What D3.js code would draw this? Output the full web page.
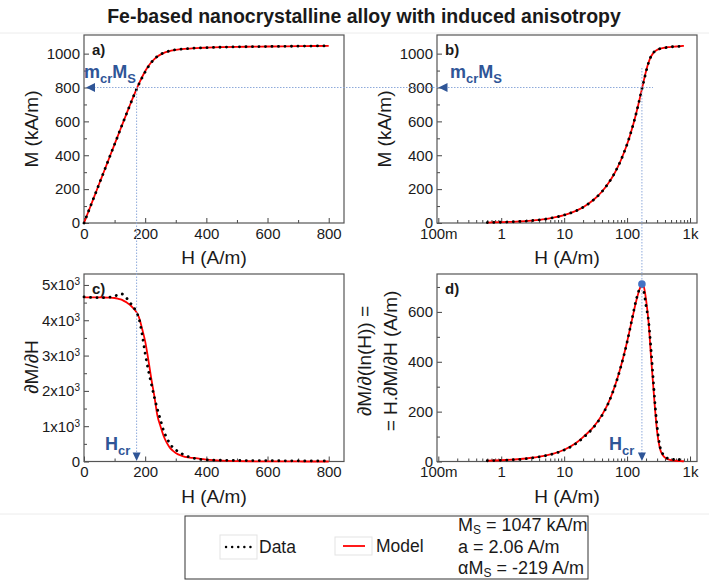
<!DOCTYPE html>
<html>
<head>
<meta charset="utf-8">
<script src="https://cdn.jsdelivr.net/npm/d3@7"></script>
<style>
  body { margin: 0; background: #fff; }
  text { font-family: "Liberation Sans", Arial, sans-serif; fill: #1a1a1a; }
</style>
</head>
<body>
<svg id="chart" width="709" height="580"></svg>
<script>
// ---- data ----
// M(H) curve, panels a and b (H in A/m, M in kA/m)
const hM = [0, 0.6, 1, 1.5, 2, 3, 5, 7, 10, 15, 20, 30, 40, 50, 60, 70, 80, 90, 100, 110, 120, 130, 140, 150,
  160, 170, 180, 190, 200, 210, 220, 230, 240, 250, 260, 270, 280, 290, 300, 320, 340, 360, 380, 400,
  450, 500, 550, 600, 650, 700, 750, 800];
const mData = [0, 2.8, 4.7, 7, 9.3, 14, 23, 33, 47, 70, 93, 140, 186, 233, 279, 326, 372, 419, 465, 511, 558, 604, 650, 695,
  740, 782, 822, 858, 892, 922, 948, 968, 984, 996, 1005, 1011, 1016, 1020, 1023, 1027, 1030, 1032, 1034, 1035,
  1038, 1040, 1041, 1042, 1043, 1044, 1045, 1046];
const mModel = [0, 2.8, 4.7, 7, 9.3, 14, 23, 33, 47, 70, 93, 140, 186, 233, 279, 326, 372, 419, 465, 511, 558, 604, 650, 695,
  740, 783, 824, 862, 896, 925, 949, 968, 983, 994, 1003, 1010, 1015, 1019, 1022, 1027, 1030, 1032, 1034, 1035,
  1038, 1040, 1041, 1042, 1043, 1044, 1045, 1046];

// dM/dH, panel c
const hC = [0, 20, 40, 60, 80, 100, 110, 120, 130, 140, 150, 160, 170, 180, 190, 200, 210, 220, 230, 240, 250,
  260, 270, 280, 290, 300, 320, 340, 360, 380, 400, 450, 500, 550, 600, 650, 700, 750, 800];
const dmdhData = [4660, 4650, 4640, 4640, 4650, 4680, 4720, 4750, 4720, 4620, 4500, 4400, 4250, 4040, 3600, 3060, 2600, 2200, 1820, 1480, 1180,
  880, 680, 520, 400, 330, 220, 140, 90, 60, 45, 35, 30, 25, 25, 20, 20, 15, 15];
const dmdhModel = [4650, 4650, 4648, 4645, 4640, 4630, 4615, 4590, 4550, 4500, 4440, 4350, 4250, 4080, 3760, 3400, 2900, 2350, 1850, 1300, 1000,
  730, 540, 400, 310, 240, 160, 115, 100, 75, 55, 25, 12, 6, 3, 2, 1, 0, 0];

// H.dM/dH, panel d
const hD = [0.6, 1, 2, 3, 5, 7, 10, 15, 20, 30, 40, 50, 60, 70, 80, 100, 120, 140, 160, 172, 185, 200, 220, 240,
  260, 280, 300, 330, 370, 420, 500, 550, 600, 650, 700, 750, 800];
const hdmdhData = [3, 5, 9, 14, 23, 32, 46, 70, 95, 140, 185, 232, 282, 332, 382, 478, 572, 650, 695, 703, 680, 625, 560, 450,
  330, 220, 140, 65, 30, 15, 10, 8, 12, 6, 10, 5, 8];
const hdmdhModel = [3, 5, 10, 15, 24, 33, 47, 72, 98, 142, 187, 233, 283, 333, 383, 480, 570, 645, 695, 712, 700, 650, 555, 420,
  305, 200, 120, 55, 25, 12, 6, 4, 3, 2, 2, 1, 1];

// ticks and annotations
const ticksHlin = [0, 200, 400, 600, 800];
const minorHlin = [100, 300, 500, 700];
const ticksM = [0, 200, 400, 600, 800, 1000];
const minorM = [100, 300, 500, 700, 900];
const ticksC = [0, 1000, 2000, 3000, 4000, 5000];
const minorC = [500, 1500, 2500, 3500, 4500];
const ticksD = [0, 200, 400, 600];
const minorD = [100, 300, 500, 700];
const ticksHlog = [0.1, 1, 10, 100, 1000];
const labelsHlog = ["100m", "1", "10", "100", "1k"];
const hCr = 172;
const mCr = 800;
const peakD = 712;

const svg = d3.select("#chart");
const blue = "#2f5597";
const guide = "#8eaadb";

svg.append("line").attr("x1", 0).attr("x2", 709).attr("y1", 33).attr("y2", 33).attr("stroke", "#ececec");
svg.append("line").attr("x1", 0).attr("x2", 709).attr("y1", 514).attr("y2", 514).attr("stroke", "#ececec");

svg.append("text").attr("x", 364).attr("y", 23).attr("text-anchor", "middle")
  .attr("font-size", 19.5).attr("font-weight", "bold").text("Fe-based nanocrystalline alloy with induced anisotropy");

const boxes = {
  a: { x0: 84, x1: 344, y0: 35, y1: 223 },
  b: { x0: 437, x1: 697, y0: 35, y1: 223 },
  c: { x0: 84, x1: 344, y0: 274, y1: 461.5 },
  d: { x0: 437, x1: 697, y0: 274, y1: 461.5 }
};

// log scale: 100m at 438.3, 62.93 px per decade
const logLo = Math.pow(10, -1 - 1.3 / 62.93);
const logHi = Math.pow(10, -1 + (697 - 438.3) / 62.93);

const minorLog = [];
[0.1, 1, 10, 100].forEach(d => { for (let k = 2; k <= 9; k++) minorLog.push(k * d); });

function panel(key, opt) {
  const b = boxes[key];
  const x = opt.log
    ? d3.scaleLog().domain([logLo, logHi]).range([b.x0, b.x1])
    : d3.scaleLinear().domain([0, 850]).range([b.x0, b.x1]);
  const y = d3.scaleLinear().domain([0, opt.ymax]).range([b.y1, b.y0]);
  const g = svg.append("g");

  const xAxis = d3.axisBottom(x).tickSizeInner(-5).tickSizeOuter(0).tickPadding(5);
  if (opt.log) xAxis.tickValues(ticksHlog).tickFormat((d, i) => labelsHlog[i]);
  else xAxis.tickValues(ticksHlin).tickFormat(d3.format("d"));
  g.append("g").attr("transform", `translate(0,${b.y1})`).call(xAxis);
  g.append("g").attr("transform", `translate(0,${b.y1})`)
    .call(d3.axisBottom(x).tickValues(opt.log ? minorLog : minorHlin).tickSize(-3).tickFormat(""));

  const yAxis = d3.axisLeft(y).tickValues(opt.yticks).tickSizeInner(-5).tickSizeOuter(0).tickPadding(4)
    .tickFormat(d3.format("d"));
  const gy = g.append("g").attr("transform", `translate(${b.x0},0)`).call(yAxis);
  g.append("g").attr("transform", `translate(${b.x0},0)`)
    .call(d3.axisLeft(y).tickValues(opt.yminor).tickSize(-3).tickFormat(""));

  g.selectAll(".domain").remove();
  g.selectAll(".tick line").attr("stroke", "#444");
  g.selectAll(".tick text").attr("font-size", 15).attr("fill", "#1a1a1a")
    .attr("font-family", "'Liberation Sans', Arial, sans-serif");

  if (opt.sci) {
    gy.selectAll(".tick text").each(function (d) {
      if (d === 0) return;
      const t = d3.select(this).text(null);
      t.append("tspan").text(d / 1000 + "x10");
      t.append("tspan").attr("dy", "-0.5em").attr("font-size", 10).text("3");
    });
  }

  g.append("rect").attr("x", b.x0).attr("y", b.y0)
    .attr("width", b.x1 - b.x0).attr("height", b.y1 - b.y0)
    .attr("fill", "none").attr("stroke", "#555").attr("stroke-width", 1.2);

  g.append("text").attr("x", b.x0 + 8).attr("y", b.y0 + 20)
    .attr("font-size", 15).attr("font-weight", "bold").text(key + ")");

  g.append("text").attr("x", (b.x0 + b.x1) / 2).attr("y", b.y1 + 41)
    .attr("text-anchor", "middle").attr("font-size", 19).text("H (A/m)");

  const line = (hs, vs) => d3.line().curve(d3.curveMonotoneX)
    .x(d => x(d[0])).y(d => y(d[1]))(hs.map((h, i) => [h, vs[i]]).filter(p => !opt.log || p[0] > 0));

  g.append("path").attr("d", line(opt.h, opt.model))
    .attr("fill", "none").attr("stroke", "#ff0000").attr("stroke-width", 1.8);
  g.append("path").attr("d", line(opt.h, opt.data))
    .attr("fill", "none").attr("stroke", "#000").attr("stroke-width", 2.8)
    .attr("stroke-linecap", "round").attr("stroke-dasharray", "0.1 6.4");

  return { x, y, b };
}

const pa = panel("a", { h: hM, data: mData, model: mModel, ymax: 1110, yticks: ticksM, yminor: minorM });
const pb = panel("b", { log: true, h: hM, data: mData, model: mModel, ymax: 1110, yticks: ticksM, yminor: minorM });
const pc = panel("c", { h: hC, data: dmdhData, model: dmdhModel, ymax: 5310, yticks: ticksC, yminor: minorC, sci: true });
const pd = panel("d", { log: true, h: hD, data: hdmdhData, model: hdmdhModel, ymax: 752, yticks: ticksD, yminor: minorD });

// y axis titles
function yTitle(cx, cy, txt) {
  svg.append("text").attr("transform", `translate(${cx},${cy}) rotate(-90)`)
    .attr("text-anchor", "middle").attr("font-size", 19).text(txt);
}
yTitle(38, 129, "M (kA/m)");
yTitle(391, 129, "M (kA/m)");
yTitle(38, 367, "\u2202M/\u2202H");
yTitle(371, 361, "\u2202M/\u2202(ln(H)) =");
yTitle(397, 361, "= H.\u2202M/\u2202H (A/m)");

// guide lines
const yCr = pa.y(mCr);
const xCrA = pa.x(hCr);
const xCrB = pb.x(hCr);
const dotted = sel => sel.attr("stroke", guide).attr("stroke-width", 1).attr("stroke-dasharray", "1.5 1.5");
svg.append("line").attr("x1", 94).attr("x2", 653).attr("y1", yCr).attr("y2", yCr).call(dotted);
svg.append("line").attr("x1", xCrA).attr("x2", xCrA).attr("y1", yCr).attr("y2", 453).call(dotted);
svg.append("line").attr("x1", xCrB).attr("x2", xCrB).attr("y1", 68).attr("y2", 453).call(dotted);

// arrows
function triLeft(tx, ty) {
  svg.append("path").attr("d", `M${tx},${ty} L${tx + 9},${ty - 4.5} L${tx + 9},${ty + 4.5} Z`).attr("fill", blue);
}
function triDown(tx, ty) {
  svg.append("path").attr("d", `M${tx},${ty} L${tx - 4},${ty - 8.5} L${tx + 4},${ty - 8.5} Z`).attr("fill", blue);
}
triLeft(86, yCr);
triLeft(438.5, yCr);
triDown(xCrA, 461);
triDown(xCrB, 461);

svg.append("circle").attr("cx", xCrB).attr("cy", pd.y(peakD)).attr("r", 3.8).attr("fill", "#4472c4");

function subLabel(tx, ty, parts) {
  const t = svg.append("text").attr("x", tx).attr("y", ty).attr("font-weight", "bold");
  parts.forEach(p => {
    t.append("tspan").attr("font-size", p.sub ? 13 : 18).attr("dy", p.dy || 0).attr("fill", blue).text(p.t);
  });
}
const mcrParts = [{ t: "m" }, { t: "cr", sub: true, dy: 5 }, { t: "M", dy: -5 }, { t: "S", sub: true, dy: 5 }];
subLabel(84, 78, mcrParts);
subLabel(450, 78, mcrParts);
const hcrParts = [{ t: "H" }, { t: "cr", sub: true, dy: 5 }];
subLabel(105, 450, hcrParts);
subLabel(609, 450, hcrParts);

// legend
const lg = svg.append("g");
lg.append("rect").attr("x", 185).attr("y", 516).attr("width", 403).attr("height", 63)
  .attr("fill", "#fff").attr("stroke", "#333").attr("stroke-width", 1);
lg.append("rect").attr("x", 220).attr("y", 535).attr("width", 37).attr("height", 24)
  .attr("fill", "none").attr("stroke", "#e3e3e3");
lg.append("line").attr("x1", 226).attr("x2", 252).attr("y1", 547).attr("y2", 547)
  .attr("stroke", "#000").attr("stroke-width", 2.4).attr("stroke-linecap", "round").attr("stroke-dasharray", "0.1 6");
lg.append("text").attr("x", 259).attr("y", 553).attr("font-size", 17.5).text("Data");
lg.append("rect").attr("x", 335).attr("y", 537).attr("width", 37).attr("height", 18)
  .attr("fill", "none").attr("stroke", "#e3e3e3");
lg.append("line").attr("x1", 343).attr("x2", 365).attr("y1", 546).attr("y2", 546)
  .attr("stroke", "#ff0000").attr("stroke-width", 1.8);
lg.append("text").attr("x", 376).attr("y", 552).attr("font-size", 17.5).text("Model");

const params = [
  [{ t: "M" }, { t: "S", sub: true }, { t: " = 1047 kA/m" }],
  [{ t: "a = 2.06 A/m" }],
  [{ t: "\u03b1M" }, { t: "S", sub: true }, { t: " = -219 A/m" }]
];
params.forEach((row, i) => {
  const t = lg.append("text").attr("x", 458).attr("y", 531 + i * 21.5).attr("font-size", 18);
  row.forEach(p => {
    const s = t.append("tspan").text(p.t);
    if (p.sub) s.attr("font-size", 12).attr("dy", 3);
    else if (t.selectAll("tspan").size() > 1) s.attr("dy", -3);
  });
});
</script>
</body>
</html>
